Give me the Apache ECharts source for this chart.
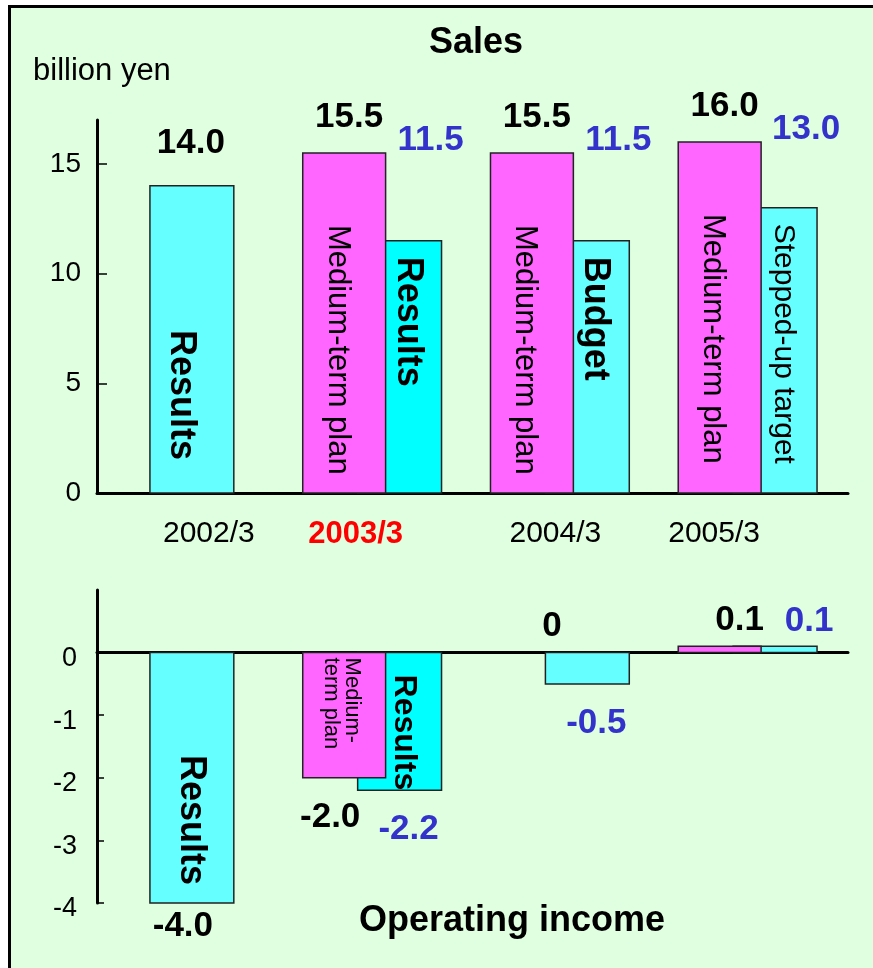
<!DOCTYPE html>
<html>
<head>
<meta charset="utf-8">
<title>Sales and Operating income</title>
<script src="https://cdn.jsdelivr.net/npm/echarts@6/dist/echarts.min.js"></script>
<style>
  html, body { margin: 0; padding: 0; background: #ffffff; }
  #chart { width: 873px; height: 968px; }
</style>
</head>
<body>
<div id="chart"></div>
<script>
// ---- data (billion yen) ----
const categories = ['2002/3', '2003/3', '2004/3', '2005/3'];
const currentPeriod = '2003/3';

const salesPlan = [null, 15.5, 15.5, 16.0];
const salesActual = [14.0, 11.5, 11.5, 13.0];
const salesPlanNames = [null, 'Medium-term plan', 'Medium-term plan', 'Medium-term plan'];
const salesActualNames = ['Results', 'Results', 'Budget', 'Stepped-up target'];

const incomePlan = [null, -2.0, 0, 0.1];
const incomeActual = [-4.0, -2.2, -0.5, 0.1];
const incomePlanNames = [null, 'Medium-\nterm plan', null, null];
const incomeActualNames = ['Results', 'Results', null, null];

const salesTicks = [0, 5, 10, 15];
const incomeTicks = [0, -1, -2, -3, -4];

// ---- look ----
const FONT = '"Liberation Sans", Arial, Helvetica, sans-serif';
const INK = '#000000';
const BLUE = '#3333cc';
const RED = '#ff0000';
const PLAN_FILL = '#ff66ff';
const ACTUAL_FILL = '#66ffff';
const CURRENT_FILL = '#00ffff';
const BG = '#e0ffe0';

function fmt(v) { return v === 0 ? '0' : v.toFixed(1); }

function txt(x, y, text, size, weight, color, align, vAlign, rotation, lineHeight) {
  const el = {
    type: 'text', x: x, y: y,
    style: {
      text: text, fill: color,
      fontSize: size, fontWeight: weight, fontFamily: FONT,
      align: align, textAlign: align,
      verticalAlign: vAlign, textVerticalAlign: vAlign
    }
  };
  if (lineHeight) el.style.lineHeight = lineHeight;
  if (rotation) el.rotation = rotation;
  return el;
}

// Text written inside a bar, reading from top to bottom.
function barText(x, y, text, size, weight, align, lineHeight) {
  return txt(x, y, text, size, weight, INK, align, 'middle', -Math.PI / 2, lineHeight);
}

function makeRenderer(kind, role) {
  const isSales = kind === 'sales';
  const plan = isSales ? salesPlan : incomePlan;
  const names = isSales
    ? (role === 'plan' ? salesPlanNames : salesActualNames)
    : (role === 'plan' ? incomePlanNames : incomeActualNames);
  const look = isSales
    ? { planSize: 31, planLine: 31, planStart: 72, planDx: -7, pairSize: 36, pairStart: 16, pairDx: -6, singleDx: -10, singleEndPad: 33 }
    : { planSize: 22, planLine: 21, planStart: 5, planDx: -3, pairSize: 32, pairStart: 22, pairDx: -10, singleDx: 0, singleEndPad: 18 };

  return function (params, api) {
    const idx = api.value(0);
    const val = api.value(1);
    const base = api.coord([idx, 0]);
    const tip = api.coord([idx, val]);
    const c = base[0];
    const k = api.size([1, 0])[0] / 188;
    const single = plan[idx] == null;

    let x0, x1;
    if (single) { x0 = c - 41 * k; x1 = c + 43 * k; }
    else if (role === 'plan') { x0 = c - 76 * k; x1 = c + 7 * k; }
    else { x0 = c - 21 * k; x1 = c + 63 * k; }
    const yTop = Math.min(base[1], tip[1]);
    const yBot = Math.max(base[1], tip[1]);
    const mid = (x0 + x1) / 2;

    const fill = role === 'plan'
      ? PLAN_FILL
      : (categories[idx] === currentPeriod ? CURRENT_FILL : ACTUAL_FILL);

    const children = [];
    if (val !== 0) {
      children.push({
        type: 'rect',
        shape: { x: x0, y: yTop, width: x1 - x0, height: yBot - yTop },
        style: { fill: fill, stroke: '#222222', lineWidth: 1.5 }
      });
    }

    // caption inside the bar
    const name = names[idx];
    if (name) {
      const bold = !/[\s-]/.test(name);
      if (single) {
        children.push(barText(c + look.singleDx * k, yBot - look.singleEndPad, name, 36, 'bold', 'right'));
      } else if (role === 'plan') {
        children.push(barText(mid + look.planDx, yTop + look.planStart, name, look.planSize, 'normal', 'left', look.planLine));
      } else {
        children.push(barText(c + 35 * k + look.pairDx, yTop + look.pairStart, name,
          bold ? look.pairSize : 30, bold ? 'bold' : 'normal', 'left'));
      }
    }

    // value label
    const label = fmt(val);
    const color = (role === 'actual' && !single) ? BLUE : INK;
    let lx, ly;
    if (isSales) {
      if (single) { lx = c; ly = yTop - 42; }
      else if (role === 'plan') { lx = mid + 5; ly = yTop - 36; }
      else {
        const planTop = api.coord([idx, plan[idx]])[1];
        lx = c + 52 * k; ly = Math.min(planTop, yTop) - 13;
      }
    } else {
      if (single) { lx = c - 8; ly = yBot + 23; }
      else if (role === 'plan') {
        if (val < 0) { lx = mid - 14; ly = yBot + 40; }
        else { lx = mid + 20; ly = yTop - 26; }
      } else {
        if (val < 0) { lx = c + 30 * k; ly = yBot + 39; }
        else { lx = c + 55 * k; ly = yTop - 25; }
      }
    }
    children.push(txt(lx, ly, label, 35, 'bold', color, 'center', 'middle'));

    return { type: 'group', children: children };
  };
}

function points(arr) {
  const out = [];
  arr.forEach(function (v, i) { if (v != null) out.push([i, v]); });
  return out;
}

// category label nudges (px) and per-period styling
const labelShift = [18, -23, -11, -40];
const rich = {};
categories.forEach(function (cat, i) {
  const s = labelShift[i];
  const hot = cat === currentPeriod;
  rich['p' + i] = {
    fontFamily: FONT,
    fontSize: hot ? 31 : 30,
    fontWeight: hot ? 'bold' : 'normal',
    color: hot ? RED : INK,
    padding: s >= 0 ? [0, 0, 0, 2 * s] : [0, -2 * s, 0, 0]
  };
});

const chart = echarts.init(document.getElementById('chart'), null, { renderer: 'canvas' });

const axisBlack = { color: '#000000', width: 3 };

chart.setOption({
  animation: false,
  backgroundColor: '#ffffff',
  graphic: [
    {
      type: 'rect', z: -100,
      shape: { x: 9.5, y: 6.5, width: 900, height: 1000 },
      style: { fill: BG, stroke: '#000000', lineWidth: 3 }
    },
    txt(476, 43, 'Sales', 36, 'bold', INK, 'center', 'middle'),
    txt(33, 71, 'billion yen', 31, 'normal', INK, 'left', 'middle'),
    txt(512, 921, 'Operating income', 36, 'bold', INK, 'center', 'middle')
  ],
  grid: [
    { left: 97, right: 25, top: 120, height: 373 },
    { left: 97, right: 25, top: 590, height: 313 }
  ],
  xAxis: [
    {
      gridIndex: 0, type: 'category', data: categories,
      axisLine: { show: true, lineStyle: axisBlack },
      axisTick: { show: false },
      axisLabel: {
        margin: 26,
        formatter: function (v, i) { return '{p' + i + '|' + v + '}'; },
        rich: rich
      }
    },
    {
      gridIndex: 1, type: 'category', data: categories,
      axisLine: { show: true, onZero: true, lineStyle: axisBlack },
      axisTick: { show: false },
      axisLabel: { show: false }
    }
  ],
  yAxis: [
    {
      gridIndex: 0, type: 'value', min: 0, max: 17, interval: 5,
      axisLine: { show: true, lineStyle: axisBlack },
      axisTick: { show: true, inside: true, length: 10, customValues: salesTicks, lineStyle: { color: '#000', width: 1.5 } },
      axisLabel: { customValues: salesTicks, fontFamily: FONT, fontSize: 28, color: INK, margin: 16 },
      splitLine: { show: false }
    },
    {
      gridIndex: 1, type: 'value', min: -4, max: 1, interval: 1,
      axisLine: { show: true, lineStyle: axisBlack },
      axisTick: { show: true, inside: true, length: 7, customValues: incomeTicks, lineStyle: { color: '#000', width: 1.5 } },
      axisLabel: {
        customValues: incomeTicks, margin: 20,
        formatter: '{t|{value}}',
        rich: { t: { fontFamily: FONT, fontSize: 27, color: INK, padding: [12, 0, 0, 0] } }
      },
      splitLine: { show: false }
    }
  ],
  series: [
    { type: 'custom', name: 'Sales actual', xAxisIndex: 0, yAxisIndex: 0,
      renderItem: makeRenderer('sales', 'actual'), data: points(salesActual) },
    { type: 'custom', name: 'Sales plan', xAxisIndex: 0, yAxisIndex: 0,
      renderItem: makeRenderer('sales', 'plan'), data: points(salesPlan) },
    { type: 'custom', name: 'Operating income actual', xAxisIndex: 1, yAxisIndex: 1,
      renderItem: makeRenderer('income', 'actual'), data: points(incomeActual) },
    { type: 'custom', name: 'Operating income plan', xAxisIndex: 1, yAxisIndex: 1,
      renderItem: makeRenderer('income', 'plan'), data: points(incomePlan) }
  ]
});
</script>
</body>
</html>
